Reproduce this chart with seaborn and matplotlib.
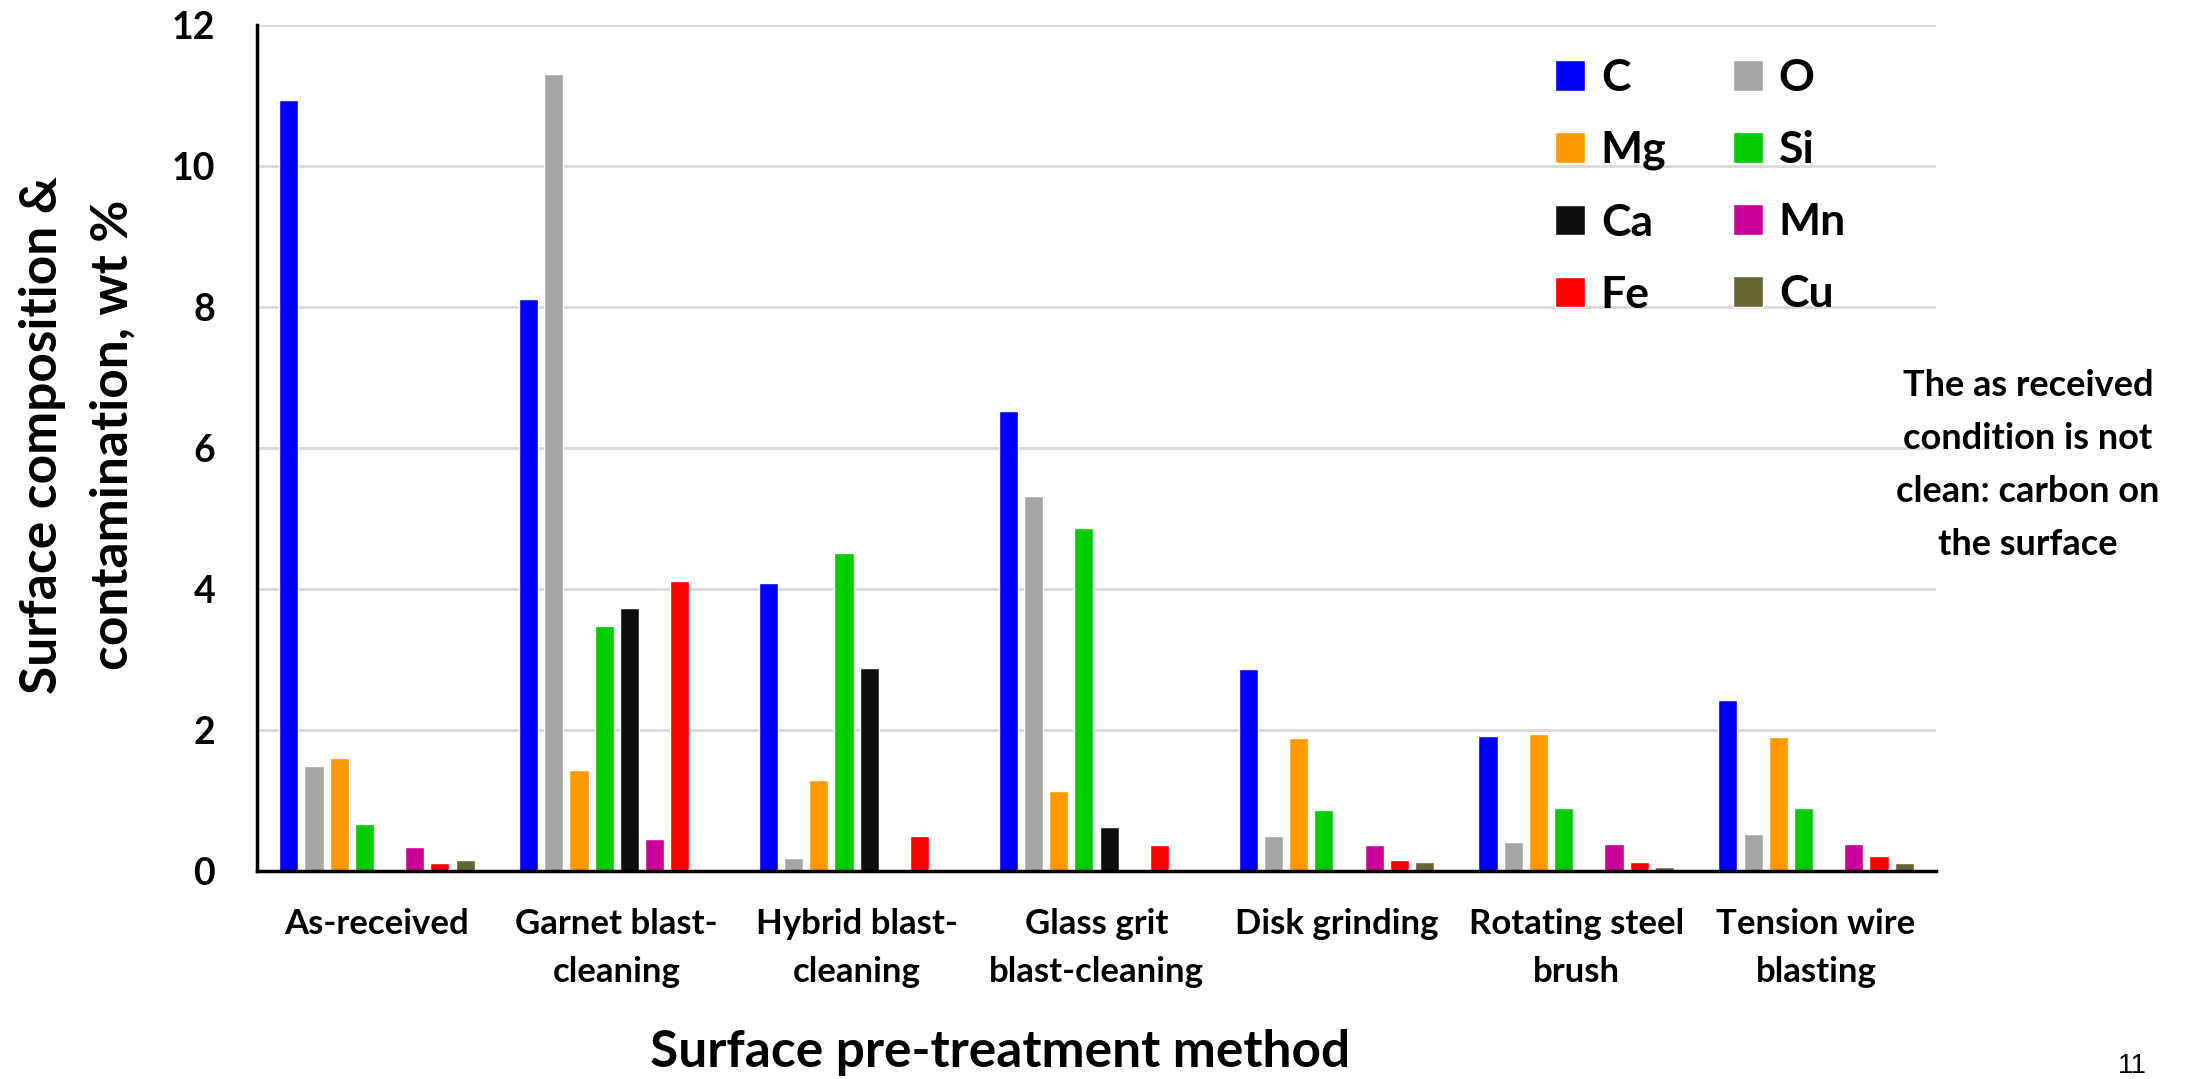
import matplotlib
matplotlib.use("Agg")
import matplotlib.pyplot as plt
import seaborn as sns
import pandas as pd

methods = ["As-received", "Garnet blast-\ncleaning", "Hybrid blast-\ncleaning",
           "Glass grit\nblast-cleaning", "Disk grinding", "Rotating steel\nbrush",
           "Tension wire\nblasting"]
elements = ["C", "O", "Mg", "Si", "Ca", "Mn", "Fe", "Cu"]

C_vals  = [10.94, 8.11, 4.09, 6.53, 2.86, 1.92, 2.43]
O_vals  = [1.49, 11.31, 0.19, 5.32, 0.50, 0.41, 0.52]
Mg_vals = [1.60, 1.43, 1.29, 1.14, 1.88, 1.95, 1.90]
Si_vals = [0.67, 3.47, 4.51, 4.86, 0.86, 0.90, 0.90]
Ca_vals = [0.0, 3.73, 2.88, 0.62, 0.0, 0.0, 0.0]
Mn_vals = [0.34, 0.45, 0.0, 0.0, 0.37, 0.39, 0.39]
Fe_vals = [0.11, 4.11, 0.49, 0.37, 0.15, 0.13, 0.21]
Cu_vals = [0.15, 0.0, 0.0, 0.0, 0.13, 0.06, 0.11]

colors = ["#0000FF", "#A6A6A6", "#FF9900", "#00CC00", "#0D0D0D", "#CC0099", "#FF0000", "#666633"]

series = [C_vals, O_vals, Mg_vals, Si_vals, Ca_vals, Mn_vals, Fe_vals, Cu_vals]
rows = []
for el, vals in zip(elements, series):
    for m, v in zip(methods, vals):
        rows.append({"method": m, "element": el, "value": v})
df = pd.DataFrame(rows)

sns.set_style("white")
plt.rcParams['font.family'] = ['Lato', 'DejaVu Sans']
for k in ["text.color", "axes.labelcolor", "xtick.color", "ytick.color"]:
    plt.rcParams[k] = "black"

fig = plt.figure(figsize=(21.92, 10.79), dpi=100)
ax = fig.add_axes([257/2192, 1-871/1079, (1936-257)/2192, (871-25)/1079])

sns.barplot(data=df, x="method", y="value", hue="element", order=methods,
            hue_order=elements, palette=colors, width=0.84, gap=0.24,
            edgecolor="white", linewidth=1, saturation=1, ax=ax, errorbar=None)

ax.set_ylim(0, 12)
ax.set_xlim(-0.5, len(methods) - 0.5)
ax.set_yticks(range(0, 13, 2))
ax.yaxis.grid(True, color="#D9D9D9", linewidth=2)
ax.set_axisbelow(True)
for s in ["top", "right"]:
    ax.spines[s].set_visible(False)
for s in ["left", "bottom"]:
    ax.spines[s].set_color("black")
    ax.spines[s].set_linewidth(2.5)
ax.tick_params(axis="y", direction="in", length=11, width=2, pad=30, labelsize=27)
ax.tick_params(axis="x", length=0, pad=27, labelsize=25)
for lab in ax.get_yticklabels():
    lab.set_fontweight("bold")
for lab in ax.get_xticklabels():
    lab.set_fontweight("bold")
    lab.set_multialignment("center")
    lab.set_linespacing(1.6)
ax.set_xlabel("")
ax.set_ylabel("")

handles, labels = ax.get_legend_handles_labels()
order = [0, 2, 4, 6, 1, 3, 5, 7]
ax.legend([handles[i] for i in order], [labels[i] for i in order], ncol=2, loc="upper left",
          bbox_to_anchor=(1555/2192, 1-58/1079), bbox_transform=fig.transFigure,
          frameon=False, prop={"weight": "bold", "size": 32},
          handlelength=0.68, handleheight=0.68, handletextpad=0.35,
          columnspacing=1.5, labelspacing=0.72, borderpad=0, borderaxespad=0)

fig.text(1000/2192, 1-1053/1079, "Surface pre-treatment method", ha="center", va="center",
         fontsize=37, fontweight="bold")
fig.text(78/2192, 1-435/1079, "Surface composition &\ncontamination, wt %", ha="center",
         va="center", rotation=90, fontsize=37, fontweight="bold", linespacing=1.62)
fig.text(2028/2192, 1-465/1079, "The as received\ncondition is not\nclean: carbon on\nthe surface",
         ha="center", va="center", fontsize=26, fontweight="bold", linespacing=1.75)
fig.text(2132/2192, 1-1066/1079, "11", ha="center", va="center", fontsize=20,
         family=["Liberation Sans Narrow", "Liberation Sans", "DejaVu Sans"])

fig.savefig("out.png", dpi=100)
